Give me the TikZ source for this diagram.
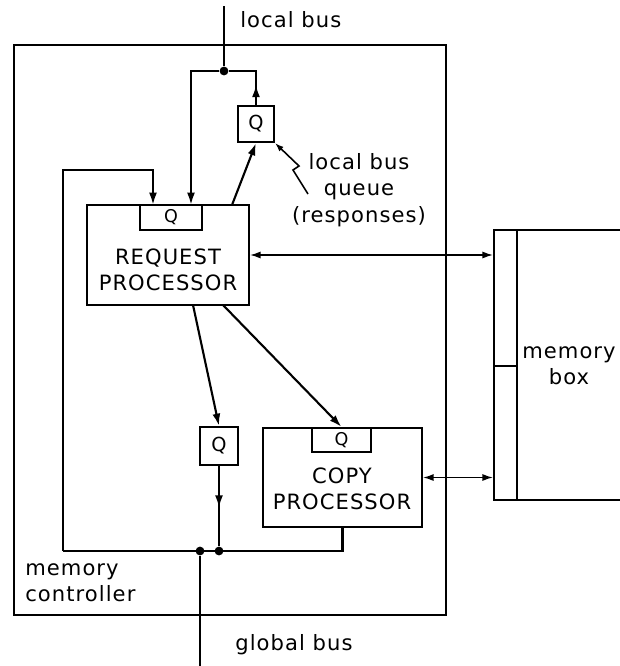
\documentclass[tikz,border=0pt]{standalone}
\usepackage{fontspec}
\setmainfont{DejaVu Sans}[LetterSpace=5]
\usepackage{tikz}
\usetikzlibrary{arrows.meta, positioning, fit, decorations.markings}

\begin{document}
\begin{tikzpicture}[x=0.02cm, y=-0.02cm,
  box/.style={draw, line width=1.2pt, inner sep=0pt},
  qtxt/.style={font=\fontsize{11}{13}\selectfont, inner sep=0pt},
  tabtxt/.style={font=\fontsize{10}{12}\selectfont, inner sep=0pt},
  lbl/.style={font=\fontsize{12}{15}\selectfont, align=center, inner sep=0pt},
  wire/.style={line width=1.2pt},
  arr/.style={wire, -{Latex[length=7pt,width=4.5pt]}},
  dbl/.style={line width=0.8pt, {Latex[length=6pt,width=4pt]}-{Latex[length=6pt,width=4pt]}},
  midarr/.style={wire, postaction={decorate}, decoration={markings, mark=at position #1 with {\arrow{Latex[length=7pt,width=4.5pt]}}}},
  dot/.style={circle, fill, inner sep=0pt, minimum size=5pt}
]
  \useasboundingbox (0,0) rectangle (619,666);

  \node[box, line width=1.5pt, fit={(14,45) (446,615)}] (ctrl) {};
  \node[box, fit={(87,205) (249,305)}] (rp) {};
  \node[box, fit={(140,205) (202,230)}] (rpq) {};
  \node[box, fit={(238,106) (274,142)}] (qtop) {};
  \node[box, fit={(200,427) (238,465)}] (qbot) {};
  \node[box, fit={(263,428) (422,527)}] (cp) {};
  \node[box, fit={(312,428) (371,452)}] (cpq) {};
  \node[box, fit={(494,230) (700,500)}] (mem) {};
  \draw[wire] (517,230) -- (517,500);
  \draw[wire] (494,366) -- (517,366);

  \node[tabtxt] (rpqtxt) at (rpq) {Q};
  \node[tabtxt] (cpqtxt) at (cpq) {Q};
  \node[qtxt] (qtoptxt) at (qtop) {Q};
  \node[qtxt] (qbottxt) at (qbot) {Q};
  \node[lbl] (rptxt) at (168,270) {REQUEST\\PROCESSOR};
  \node[lbl] (cptxt) at (342,489) {COPY\\PROCESSOR};
  \node[lbl] (memtxt) at (569,366) {memory\\box};
  \node[lbl, anchor=west] (lbus) at (240,20) {local bus};
  \node[lbl, anchor=west] (gbus) at (235,645) {global bus};
  \node[lbl] (lbq) at (359,190) {local bus\\queue\\(responses)};
  \node[lbl, anchor=west, align=left] (ctrltxt) at (25,583) {memory\\controller};

  \node[dot] (jtop) at (224,71) {};
  \node[dot] (jgb) at (200,551) {};
  \node[dot] (jq) at (219,551) {};
  \coordinate (lb) at (224,6);
  \coordinate (gb) at (200,666);
  \coordinate (busl) at (63,551);
  \coordinate (loopt) at (153,170);
  \coordinate (rploop) at (153,205);
  \coordinate (rpin) at (191,205);
  \coordinate (rpout) at (232,205);
  \coordinate (rpb1) at (193,305);
  \coordinate (rpb2) at (223,305);
  \coordinate (lead) at (308,194);

  \draw[wire] (lb) -- (jtop);
  \draw[arr] (jtop) -| (rpin);
  \draw[midarr=0.33] (qtop.north) |- (jtop);
  \draw[arr] (rpout) -- (qtop.south);
  \draw[arr] (busl) |- (loopt) -- (rploop);
  \draw[arr] (rpb1) -- (qbot.north);
  \draw[arr] (rpb2) -- (cpq.north);
  \draw[midarr=0.52] (qbot.south) -- (jq);
  \draw[wire] (busl) -| (cp.south);
  \draw[wire] (jgb) -- (gb);
  \draw[dbl] (rp.east) -- (rp.east -| mem.west);
  \draw[dbl] (cp.east) -- (cp.east -| mem.west);
  \draw[line width=0.9pt, -{Latex[length=5pt,width=3.5pt]}] (lead) -- (293,170) -- (299,166) -- (qtop.south east);
\end{tikzpicture}
\end{document}
